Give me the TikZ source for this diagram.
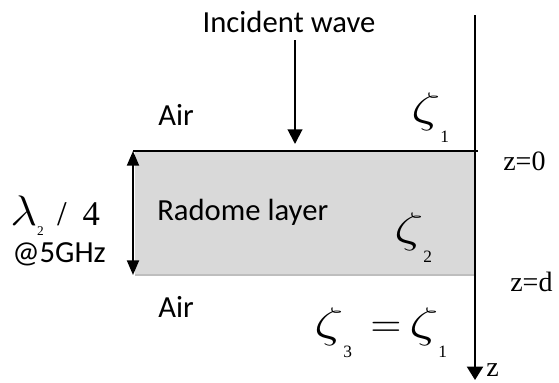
\RequirePackage{fix-cm}
\documentclass[tikz,border=0pt]{standalone}
\usepackage{graphicx}
\usepackage{fontspec}
\setsansfont{Carlito}
\newfontfamily\tmsfont{Liberation Serif}
\usetikzlibrary{arrows.meta}

\definecolor{layergray}{RGB}{217,217,217}
\definecolor{edgegray}{RGB}{190,190,190}

\newcommand{\zetasub}[1]{\scalebox{1.35}[1]{\fontsize{32}{36}\selectfont$\zeta$}\raisebox{-15pt}{\fontsize{13}{13}\selectfont\tmsfont #1}}

\tikzset{
  lbl/.style={font=\fontsize{23}{26}\selectfont\sffamily, inner sep=0pt},
  zlbl/.style={font=\fontsize{21}{24}\selectfont\tmsfont, inner sep=0pt},
  imp/.style={line width=1.5pt, -{Triangle[length=11pt,width=11pt]}},
}

\begin{document}
\begin{tikzpicture}[x=0.75pt, y=-0.75pt]
    \useasboundingbox (0,0) rectangle (559,382);

    % Couche radome
    \coordinate (lt) at (135,151);
    \coordinate (rb) at (474,275);
    \fill[layergray] (lt) rectangle (rb);
    \draw[edgegray, line width=0.8pt] (lt |- rb) -- (rb);

    % Interface z=0
    \coordinate (ifl) at (133,151);
    \coordinate (ifr) at (478,151);
    \draw[line width=1.5pt] (ifl) -- (ifr);

    % Axe z
    \coordinate (ztop) at (475,15);
    \coordinate (zbot) at (475,380);

    % Onde incidente
    \node[lbl, anchor=base] (incident) at (289,32) {Incident wave};
    \coordinate (hit) at (295,144);

    % Milieux
    \node[lbl, anchor=base west] (airtop) at (158,125) {Air};
    \node[lbl, anchor=base west] (radome) at (157,220) {Radome layer};
    \node[lbl, anchor=base west] (airbot) at (158,317) {Air};

    % Epaisseur
    \coordinate (dtop) at (133,151);
    \coordinate (dbot) at (133,275);
    \node[inner sep=0pt, anchor=base west, font=\fontsize{26}{30}\selectfont\tmsfont] (thick) at (10,225)
        {\scalebox{1.1}[1]{\fontsize{32}{36}\selectfont$\lambda$}\raisebox{-7.5pt}{\fontsize{10}{10}\selectfont 2}\hspace{10pt}/\hspace{12pt}4};
    \node[lbl, anchor=base west] (freq) at (12,262) {@5GHz};

    % Impedances
    \node[inner sep=0pt, anchor=base west] (zeta1) at (411,122) {\zetasub{1}};
    \node[inner sep=0pt, anchor=base west] (zeta2) at (394,242) {\zetasub{2}};
    \node[inner sep=0pt, anchor=base west] (zeta3) at (314,337)
        {\zetasub{3}\hspace{14pt}{\fontsize{32}{36}\selectfont$=$}\hspace{6pt}\zetasub{1}};

    % Positions
    \node[zlbl, anchor=base west] (zzero) at (503,170) {z=0};
    \node[zlbl, anchor=base west] (zd) at (510,291) {z=d};
    \node[zlbl, anchor=base west] (zname) at (486,376) {z};

    % Flèches
    \draw[imp] ([yshift=-6pt]incident.south -| hit) -- (hit);
    \draw[line width=1.5pt, -{Triangle[length=10pt,width=12pt]}] (ztop) -- (zbot);
    \draw[line width=1.5pt, {Triangle[length=11pt,width=9pt]}-{Triangle[length=11pt,width=9pt]}] (dtop) -- (dbot);
\end{tikzpicture}
\end{document}
